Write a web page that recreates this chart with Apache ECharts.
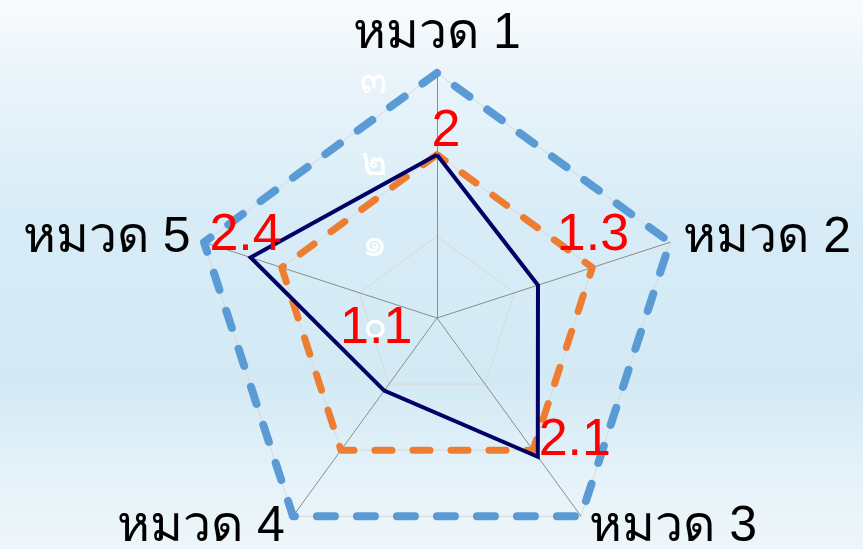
<!DOCTYPE html>
<html>
<head>
<meta charset="utf-8">
<script src="https://cdn.jsdelivr.net/npm/echarts@6/dist/echarts.min.js"></script>
<style>
  html, body { margin: 0; padding: 0; }
  #chart { width: 863px; height: 549px; }
</style>
</head>
<body>
<div id="chart"></div>
<script>
// ข้อมูล
var categories = ['หมวด 1', 'หมวด 2', 'หมวด 3', 'หมวด 4', 'หมวด 5'];
var tickLabels = ['๐', '๑', '๒', '๓'];
var maxValues = [3, 3, 3, 3, 3];
var targetValues = [2, 2, 2, 2, 2];
var scoreValues = [2, 1.3, 2.1, 1.1, 2.4];

// echarts วางแกนทวนเข็ม -> เรียงใหม่ให้ตามเข็มนาฬิกา
var order = [0, 4, 3, 2, 1];
function reorder(arr) { return order.map(function (i) { return arr[i]; }); }

// ตำแหน่งป้ายตัวเลขของแต่ละหมวด (เลื่อนจากจุด)
var labelOffsets = [[9, -23], [55, -50], [37, -16], [-8, -62], [-5, -22]];

var myChart = echarts.init(document.getElementById('chart'));

var indicators = reorder(categories).map(function (c, i) {
  var ind = { name: c, min: 0, max: 3 };
  if (i === 0) {
    ind.nameMoveOverlap = false;
    ind.axisLabel = {
      show: true,
      rotate: 0,
      color: '#ffffff',
      fontSize: 40,
      fontFamily: 'sans-serif',
      margin: 50,
      lineHeight: 18,
      formatter: function (v) { return '\n' + tickLabels[Math.round(v)]; }
    };
  }
  return ind;
});

var labelSeries = scoreValues.map(function (v, i) {
  return {
    type: 'radar',
    silent: true,
    symbol: 'circle',
    symbolSize: 1,
    itemStyle: { color: 'transparent' },
    lineStyle: { width: 0, opacity: 0 },
    z: 5,
    label: {
      show: true,
      position: 'inside',
      offset: labelOffsets[i],
      color: '#ff0000',
      fontSize: 52,
      fontFamily: 'Liberation Sans',
      formatter: function (p) { return p.value === v ? String(v) : ''; }
    },
    data: [{ value: reorder(scoreValues) }]
  };
});

myChart.setOption({
  backgroundColor: {
    type: 'linear', x: 0, y: 0, x2: 0, y2: 1,
    colorStops: [
      { offset: 0, color: '#f8fbfd' },
      { offset: 0.15, color: '#e9f4fa' },
      { offset: 0.4, color: '#d7ecf7' },
      { offset: 0.7, color: '#d3eaf5' },
      { offset: 0.86, color: '#e4f2f9' },
      { offset: 1, color: '#eef6fa' }
    ]
  },
  animation: false,
  radar: {
    center: [437, 318],
    radius: 245,
    startAngle: 90,
    splitNumber: 3,
    shape: 'polygon',
    indicator: indicators,
    axisName: {
      color: '#000000',
      fontSize: 50
    },
    nameGap: 14,
    axisLine: { lineStyle: { color: '#8c8c8c', width: 1 } },
    splitLine: { lineStyle: { color: '#d9d9d9', width: 1 } },
    splitArea: { show: false },
    axisLabel: { show: false }
  },
  series: [
    {
      type: 'radar',
      silent: true,
      symbol: 'none',
      lineStyle: { color: '#5b9bd5', width: 8, type: [18, 22], cap: 'round', join: 'round' },
      data: [{ value: reorder(maxValues) }]
    },
    {
      type: 'radar',
      silent: true,
      symbol: 'none',
      lineStyle: { color: '#ed7d31', width: 7, type: [17, 21], cap: 'round', join: 'round' },
      data: [{ value: reorder(targetValues) }]
    },
    {
      type: 'radar',
      silent: true,
      symbol: 'none',
      lineStyle: { color: '#000066', width: 4, join: 'miter' },
      data: [{ value: reorder(scoreValues) }]
    }
  ].concat(labelSeries)
});
</script>
</body>
</html>
